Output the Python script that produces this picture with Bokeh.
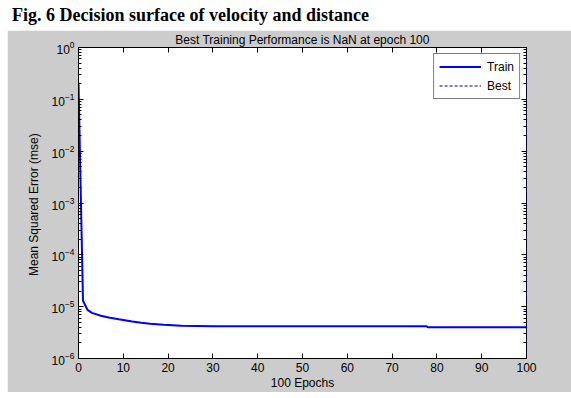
from bokeh.plotting import figure
from bokeh.layouts import column, row
from bokeh.models import (Div, Spacer, LinearAxis, LogAxis, FixedTicker,
                          LogTicker, Legend, LegendItem, Range1d,
                          CustomJSTickFormatter)
from bokeh.embed import file_html
from bokeh.resources import INLINE

caption = "Fig. 6 Decision surface of velocity and distance"
title_text = "Best Training Performance is NaN at epoch 100"
x_label = "100 Epochs"
y_label = "Mean Squared Error  (mse)"

epochs = [0, 1, 2, 3, 5, 7, 9, 12, 14, 16, 19, 23, 30, 77.7, 78, 100]
train_mse = [2.1e-1, 1.3e-5, 8.7e-6, 7.6e-6, 6.7e-6, 6.1e-6, 5.7e-6, 5.2e-6,
             4.9e-6, 4.7e-6, 4.5e-6, 4.3e-6, 4.17e-6, 4.17e-6, 4.0e-6, 4.0e-6]
best_epoch = 100
y_limits = [1e-6, 1e0]
x_ticks = [0, 10, 20, 30, 40, 50, 60, 70, 80, 90, 100]

GRAY = "#cccccc"
FONT = "Liberation Sans"

cap = Div(
    text=('<div style="font-family:\'Liberation Serif\';font-weight:bold;'
          'font-size:18px;line-height:20px;margin:0;padding:0;white-space:nowrap;'
          'color:black">' + caption + '</div>'),
    width=564, height=20,
    styles={"background-color": "white"},
)

p = figure(width=564, height=362, y_axis_type="log",
           x_range=Range1d(0, 100), y_range=Range1d(*y_limits),
           output_backend="svg", toolbar_location=None,
           background_fill_color="white", border_fill_color=GRAY,
           min_border_left=71, min_border_right=45,
           min_border_top=15, min_border_bottom=30)

p.title.text = title_text
p.title.align = "center"
p.title.text_font = FONT
p.title.text_font_size = "12px"
p.title.text_font_style = "normal"
p.title.text_color = "black"
p.title.standoff = 1

p.outline_line_color = "black"
p.outline_line_width = 1
p.grid.visible = False

xa = p.xaxis[0]
xa.ticker = FixedTicker(ticks=x_ticks)
ya = p.yaxis[0]
ya.ticker = LogTicker(num_minor_ticks=10)
for ax in (xa, ya):
    ax.major_tick_in = 5
    ax.major_tick_out = 0
    ax.minor_tick_in = 3
    ax.minor_tick_out = 0
    ax.axis_line_color = "black"
    ax.major_label_text_font = FONT
    ax.major_label_text_font_size = "12px"
    ax.major_label_text_color = "black"
    ax.axis_label_text_font = FONT
    ax.axis_label_text_font_size = "12px"
    ax.axis_label_text_font_style = "normal"
    ax.axis_label_text_color = "black"
xa.minor_tick_line_color = None
xa.axis_label = x_label
ya.axis_label = y_label
xa.major_label_standoff = 4
xa.axis_label_standoff = 1
ya.major_label_standoff = 4
ya.axis_label_standoff = 8

top = LinearAxis(ticker=FixedTicker(ticks=x_ticks),
                 formatter=CustomJSTickFormatter(code="return ''"),
                 major_tick_in=5, major_tick_out=0,
                 minor_tick_line_color=None, axis_line_color=None,
                 major_label_standoff=0)
right = LogAxis(ticker=LogTicker(num_minor_ticks=10),
                formatter=CustomJSTickFormatter(code="return ''"),
                major_tick_in=5, major_tick_out=0, minor_tick_in=3,
                minor_tick_out=0, axis_line_color=None,
                major_label_standoff=0)
p.add_layout(top, "above")
p.add_layout(right, "right")

train = p.line(epochs, train_mse, line_color="#0000ff", line_width=2)
best = p.line([best_epoch, best_epoch], y_limits, line_color="#00007f",
              line_width=1, line_dash="3 2")

legend = Legend(items=[LegendItem(label="Train", renderers=[train]),
                       LegendItem(label="Best", renderers=[best])],
                location="top_right")
legend.border_line_color = "black"
legend.border_line_width = 1
legend.background_fill_color = "white"
legend.background_fill_alpha = 1
legend.label_text_font = FONT
legend.label_text_font_size = "12px"
legend.label_text_color = "black"
legend.glyph_width = 42
legend.glyph_height = 15
legend.label_height = 15
legend.spacing = 4
legend.padding = 5
legend.margin = 6
legend.label_standoff = 6
p.add_layout(legend, "center")

layout = row(Spacer(width=7, height=382), column(cap, p, spacing=0), spacing=0)
open("out.html", "w").write(file_html(layout, INLINE))
